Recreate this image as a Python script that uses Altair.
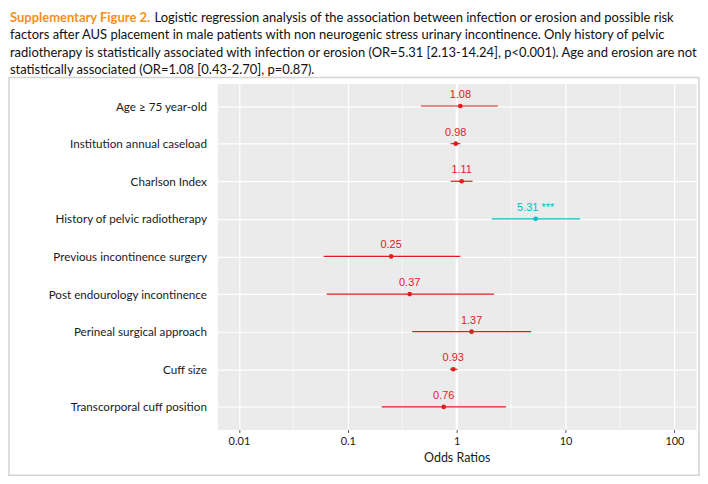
import altair as alt
import pandas as pd

# ---------------- data ----------------
terms = [
    "Age ≥ 75 year-old",
    "Institution annual caseload",
    "Charlson Index",
    "History of pelvic radiotherapy",
    "Previous incontinence surgery",
    "Post endourology incontinence",
    "Perineal surgical approach",
    "Cuff size",
    "Transcorporal cuff position",
]
odds = [1.08, 0.98, 1.11, 5.31, 0.25, 0.37, 1.37, 0.93, 0.76]
ci_low = [0.47, 0.88, 0.88, 2.10, 0.060, 0.064, 0.39, 0.87, 0.205]
ci_high = [2.39, 1.08, 1.40, 13.6, 1.08, 2.20, 4.84, 1.015, 2.84]
stars = ["", "", "", "***", "", "", "", "", ""]

major_breaks = [0.01, 0.1, 1, 10, 100]
minor_breaks = [0.0316, 0.316, 3.16, 31.6]
ref_line = [1]

cap_head = "Supplementary Figure 2."
cap_line1 = "Logistic regression analysis of the association between infection or erosion and possible risk"
cap_rest = [
    "factors after AUS placement in male patients with non neurogenic stress urinary incontinence. Only history of pelvic",
    "radiotherapy is statistically associated with infection or erosion (OR=5.31 [2.13-14.24], p<0.001). Age and erosion are not",
    "statistically associated (OR=1.08 [0.43-2.70], p=0.87).",
]

RED = "#E41A1C"
CYAN = "#00BFC4"
ORANGE = "#F29120"

df = pd.DataFrame({
    "term": terms,
    "or": odds,
    "low": ci_low,
    "high": ci_high,
    "label": [f"{v:.2f}" + (" " + s if s else "") for v, s in zip(odds, stars)],
    "group": ["sig" if s else "ns" for s in stars],
})

W, H = 480, 347

x_scale = alt.Scale(type="log", domain=[0.00634, 157.8], nice=False)
y_enc = alt.Y(
    "term:N", sort=terms,
    scale=alt.Scale(type="point", padding=0.6),
    axis=alt.Axis(title=None, grid=True, gridColor="white", gridWidth=1.2,
                  domain=False, ticks=False,
                  labelPadding=11, labelFont="Lato", labelFontSize=11.7,
                  labelColor="#1a1a1a", labelLimit=300),
)
color = alt.Color("group:N", scale=alt.Scale(domain=["ns", "sig"], range=[RED, CYAN]), legend=None)

x_axis = alt.Axis(values=major_breaks, format="~g", grid=True, gridColor="white",
                  gridWidth=1.2, domain=False, tickColor="#555555", tickSize=3,
                  labelPadding=3, labelFont="Lato", labelFontSize=11,
                  labelColor="#1a1a1a", titleFont="Lato", titleFontSize=12.5,
                  titleFontWeight="normal", titleColor="#1a1a1a", titlePadding=5)

minor = alt.Chart(pd.DataFrame({"m": minor_breaks})).mark_rule(
    color="white", strokeWidth=0.6
).encode(x=alt.X("m:Q", scale=x_scale, axis=x_axis, title="Odds Ratios"))

vline = alt.Chart(pd.DataFrame({"r": ref_line})).mark_rule(
    color="white", strokeWidth=2
).encode(x=alt.X("r:Q", scale=x_scale, title="Odds Ratios"))

base = alt.Chart(df)
errs = base.mark_rule(strokeWidth=1.2).encode(
    x=alt.X("low:Q", scale=x_scale, title="Odds Ratios"), x2="high:Q", y=y_enc, color=color)
pts = base.mark_circle(size=22, opacity=1).encode(
    x=alt.X("or:Q", scale=x_scale, title="Odds Ratios"), y=y_enc, color=color)
txt = base.mark_text(font="Liberation Sans", fontSize=11, dy=-8, baseline="alphabetic").encode(
    x=alt.X("or:Q", scale=x_scale, title="Odds Ratios"), y=y_enc, text="label:N", color=color)

frame = alt.Chart(pd.DataFrame({"f": [0]})).mark_rect(
    fillOpacity=0, stroke="#D4D4D4", strokeWidth=1.5
).encode(x=alt.value(-209), x2=alt.value(W + 3), y=alt.value(-6), y2=alt.value(H + 46))

head = alt.Chart(pd.DataFrame({"t": [cap_head]})).mark_text(
    align="left", baseline="top", font="Lato", fontWeight="bold", fontSize=13, color=ORANGE
).encode(x=alt.value(-208), y=alt.value(-72), text="t:N")

line1 = alt.Chart(pd.DataFrame({"t": [cap_line1]})).mark_text(
    align="left", baseline="top", font="Lato", fontSize=13, color="#111111"
).encode(x=alt.value(-63), y=alt.value(-72), text="t:N")

rest = alt.Chart(pd.DataFrame({"t": ["\n".join(cap_rest)]})).mark_text(
    align="left", baseline="top", font="Lato", fontSize=13, color="#111111",
    lineBreak="\n", lineHeight=17.5
).encode(x=alt.value(-208), y=alt.value(-54.5), text="t:N")

chart = alt.layer(minor, vline, errs, pts, txt, frame, head, line1, rest).properties(
    width=W, height=H, padding={"top": 3, "left": 0, "right": 0, "bottom": 0}
).configure_view(fill="#EBEBEB", stroke="transparent")

chart.save("out.html", embed_options={"renderer": "svg", "actions": False})
